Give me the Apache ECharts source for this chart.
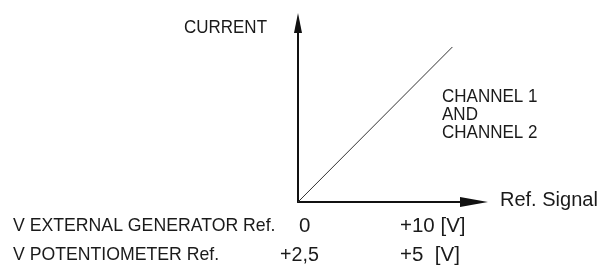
<!DOCTYPE html>
<html>
<head>
<meta charset="utf-8">
<script src="https://cdn.jsdelivr.net/npm/echarts@6/dist/echarts.min.js"></script>
<style>
html,body{margin:0;padding:0;background:#fff;}
#chart{width:615px;height:266px;}
</style>
</head>
<body>
<div id="chart"></div>
<script>
// Data
const signalVolts = [0, 10];          // external generator reference (V)
const currentPct = [0, 86.6];         // output current (relative)
const axisNames = ['CURRENT', 'Ref. Signal'];
const lineLabel = ['CHANNEL 1', 'AND', 'CHANNEL 2'];
const rowNames = ['V EXTERNAL GENERATOR Ref.', 'V POTENTIOMETER Ref.'];
const rowStart = ['0', '+2,5'];
const rowEnd = ['+10 [V]', '+5  [V]'];

const FONT = 'Liberation Sans, Arial, Helvetica, sans-serif';
const TXT = '#1a1a1a';

const chart = echarts.init(document.getElementById('chart'), null, {renderer: 'canvas'});

function txt(text, x, y, size, align, sx) {
  return {
    type: 'text', x: x, y: y, silent: true, scaleX: sx || 1,
    style: {
      text: text, fill: TXT,
      font: size + 'px ' + FONT,
      textAlign: align || 'left', textVerticalAlign: 'middle'
    }
  };
}

const graphics = [
  txt(axisNames[0], 267, 28, 17.5, 'right', 0.97),
  txt(axisNames[1], 500, 200, 20),
  {
    type: 'text', x: 442, y: 88, silent: true, scaleX: 0.92,
    style: {
      text: lineLabel.join('\n'), fill: TXT,
      font: '18.5px ' + FONT, lineHeight: 18,
      textAlign: 'left', textVerticalAlign: 'top'
    }
  },
  txt(rowNames[0], 13, 226, 18.5, 'left', 0.955),
  txt(rowNames[1], 13, 255, 18.5, 'left', 0.955),
  txt(rowStart[0], 299, 226, 20.5),
  txt(rowStart[1], 280, 255, 20.5, 'left', 0.96),
  txt(rowEnd[0], 400, 226, 20.5),
  txt(rowEnd[1], 400, 255, 20.5)
];

chart.setOption({
  animation: false,
  backgroundColor: '#fff',
  grid: {left: 298, top: 23, width: 176, height: 179, containLabel: false},
  xAxis: {
    type: 'value', min: 0, max: 11.4,
    axisLine: {show: true, symbol: ['none', 'triangle'], symbolSize: [10, 28],
      lineStyle: {color: '#111', width: 2}},
    axisTick: {show: false}, axisLabel: {show: false}, splitLine: {show: false}
  },
  yAxis: {
    type: 'value', min: 0, max: 100,
    axisLine: {show: true, symbol: ['none', 'triangle'], symbolSize: [8, 20],
      lineStyle: {color: '#111', width: 2}},
    axisTick: {show: false}, axisLabel: {show: false}, splitLine: {show: false}
  },
  series: [{
    type: 'line',
    data: signalVolts.map((v, i) => [v, currentPct[i]]),
    symbol: 'none',
    lineStyle: {color: '#333', width: 1},
    silent: true
  }],
  graphic: graphics
});
</script>
</body>
</html>
